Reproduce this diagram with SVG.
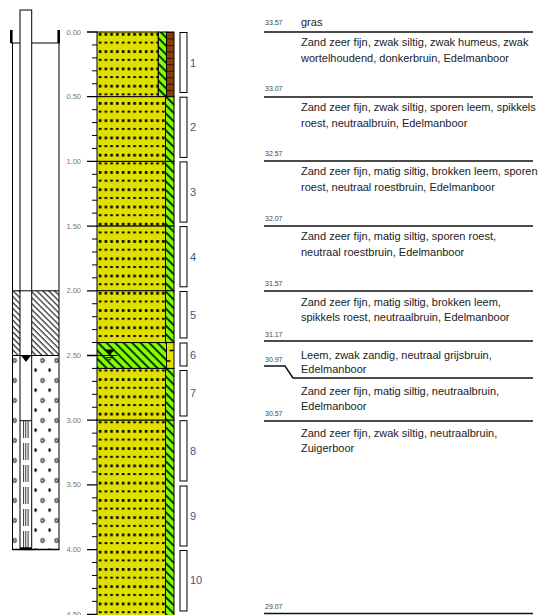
<svg xmlns="http://www.w3.org/2000/svg" width="547" height="615" viewBox="0 0 547 615">
<style>
.desc{font-family:"Liberation Sans",Arial,sans-serif;font-size:11px;fill:#222}
.elev{font-family:"Liberation Sans",Arial,sans-serif;font-size:7px;fill:#444}
.depth{font-family:"Liberation Sans",Arial,sans-serif;font-size:7.5px;fill:#777;text-anchor:end}
.num{font-family:"Liberation Sans",Arial,sans-serif;font-size:11px;fill:#4b5578}
.lyr{stroke:#000;stroke-width:1}
.hl{stroke:#111;stroke-width:1.5;fill:none}
.blk{stroke:#000;fill:none}
.smp{fill:#fff;stroke:#000;stroke-width:1}
</style>
<defs>
<pattern id="sand" patternUnits="userSpaceOnUse" x="97" y="32" width="5.75" height="17.26">
<rect width="5.75" height="17.26" fill="#e0e000"/>
<rect x="1.8" y="1" width="2.6" height="2.7" fill="#000"/>
<rect x="1.8" y="9.6" width="2.6" height="2" fill="#000"/>
</pattern>
<pattern id="green" patternUnits="userSpaceOnUse" width="6" height="6" patternTransform="rotate(-45)">
<rect width="6" height="6" fill="#7fff00"/>
<line x1="1" y1="0" x2="1" y2="6" stroke="#000" stroke-width="1.6"/>
</pattern>
<pattern id="bent" patternUnits="userSpaceOnUse" width="4.2" height="4.2" patternTransform="rotate(-45)">
<rect width="4.2" height="4.2" fill="#fff"/>
<line x1="1" y1="0" x2="1" y2="4.2" stroke="#222" stroke-width="1.2"/>
</pattern>
<pattern id="gravel" patternUnits="userSpaceOnUse" x="12.5" y="355.5" width="14" height="20">
<rect width="14" height="20" fill="#fff"/>
<circle cx="2" cy="5" r="1.9" fill="none" stroke="#000" stroke-width="1"/>
<circle cx="2" cy="5" r="0.6" fill="#000"/>
<rect x="8" y="13" width="2.2" height="3.2" fill="#000"/>
</pattern>
<pattern id="brown" patternUnits="userSpaceOnUse" x="166.5" y="32" width="7.5" height="6.47">
<rect width="7.5" height="6.47" fill="#8b3d00"/>
<line x1="0" y1="0.3" x2="7.5" y2="0.3" stroke="#000" stroke-width="0.8"/>
</pattern>
</defs>
<rect width="547" height="615" fill="#fff"/>

<g id="well">
<rect x="12.5" y="290.8" width="7.5" height="64.7" fill="url(#bent)"/>
<rect x="31.7" y="290.8" width="27.3" height="64.7" fill="url(#bent)"/>
<rect x="12.5" y="355.5" width="7.5" height="194.1" fill="url(#gravel)"/>
<rect x="31.7" y="355.5" width="27.3" height="194.1" fill="url(#gravel)"/>
<rect x="20" y="10" width="11.7" height="539.6" fill="#fff" stroke="#000" stroke-width="1"/>
<path class="blk" d="M12.5 43V549.6M59 43V549.6M11 43H20M31.7 43H59.5M12.5 290.8H59M12.5 355.5H59M20 420.7H31.7" stroke-width="1"/>
<rect x="10" y="30" width="2.6" height="13" fill="#000"/>
<rect x="57.4" y="30" width="2.6" height="13" fill="#000"/>
<polygon points="21,355.5 31,355.5 26,362" fill="#000"/>
<path d="M23.6 421V548M25.8 421V548M28.1 421V548" stroke="#000" stroke-width="0.8" stroke-dasharray="17 5"/>
<line x1="12" y1="549.6" x2="59.5" y2="549.6" stroke="#000" stroke-width="1.5"/>
<rect x="20" y="547.3" width="11.7" height="2.5" fill="#000"/>
</g>

<g id="depth-scale">
<path d="M92 44.94H97M92 57.88H97M92 70.82H97M92 83.76H97M92 109.64H97M92 122.58H97M92 135.52H97M92 148.46H97M92 174.34H97M92 187.28H97M92 200.22H97M92 213.16H97M92 239.04H97M92 251.98H97M92 264.92H97M92 277.86H97M92 303.74H97M92 316.68H97M92 329.62H97M92 342.56H97M92 368.44H97M92 381.38H97M92 394.32H97M92 407.26H97M92 433.14H97M92 446.08H97M92 459.02H97M92 471.96H97M92 497.84H97M92 510.78H97M92 523.72H97M92 536.66H97M92 562.54H97M92 575.48H97M92 588.42H97M92 601.36H97" stroke="#000" stroke-width="1"/>
<path d="M87 32H97M87 96.7H97M87 161.4H97M87 226.1H97M87 290.8H97M87 355.5H97M87 420.2H97M87 484.9H97M87 549.6H97M87 614.3H97" stroke="#000" stroke-width="1.3"/>
<text class="depth" x="81" y="34.5">0.00</text>
<text class="depth" x="81" y="99.2">0.50</text>
<text class="depth" x="81" y="163.9">1.00</text>
<text class="depth" x="81" y="228.6">1.50</text>
<text class="depth" x="81" y="293.3">2.00</text>
<text class="depth" x="81" y="358">2.50</text>
<text class="depth" x="81" y="422.7">3.00</text>
<text class="depth" x="81" y="487.4">3.50</text>
<text class="depth" x="81" y="552.1">4.00</text>
<text class="depth" x="81" y="616.5">4.50</text>
</g>

<g id="soil-column">
<g id="layer1">
<rect class="lyr" x="97" y="32" width="61.3" height="64.7" fill="url(#sand)"/>
<rect class="lyr" x="158.3" y="32" width="8.2" height="64.7" fill="url(#green)"/>
<rect class="lyr" x="166.5" y="32" width="7.5" height="64.7" fill="url(#brown)"/>
</g>
<g id="layer2">
<rect class="lyr" x="97" y="96.7" width="68.5" height="64.7" fill="url(#sand)"/>
<rect class="lyr" x="165.5" y="96.7" width="8.5" height="64.7" fill="url(#green)"/>
</g>
<g id="layer3">
<rect class="lyr" x="97" y="161.4" width="68.5" height="64.7" fill="url(#sand)"/>
<rect class="lyr" x="165.5" y="161.4" width="8.5" height="64.7" fill="url(#green)"/>
</g>
<g id="layer4">
<rect class="lyr" x="97" y="226.1" width="68.5" height="64.7" fill="url(#sand)"/>
<rect class="lyr" x="165.5" y="226.1" width="8.5" height="64.7" fill="url(#green)"/>
</g>
<g id="layer5">
<rect class="lyr" x="97" y="290.8" width="68.5" height="51.76" fill="url(#sand)"/>
<rect class="lyr" x="165.5" y="290.8" width="8.5" height="51.76" fill="url(#green)"/>
</g>
<g id="layer6">
<rect class="lyr" x="97" y="342.56" width="69.5" height="25.88" fill="url(#green)"/>
<rect class="lyr" x="166.5" y="342.56" width="7.5" height="25.88" fill="#e0e000"/>
<path d="M169.5 350.5H173.5M167 361H170.5" stroke="#000" stroke-width="1.5"/>
</g>
<g id="layer7">
<rect class="lyr" x="97" y="368.44" width="68.5" height="51.76" fill="url(#sand)"/>
<rect class="lyr" x="165.5" y="368.44" width="8.5" height="51.76" fill="url(#green)"/>
</g>
<g id="layer8">
<rect class="lyr" x="97" y="420.2" width="68.5" height="196" fill="url(#sand)"/>
<rect class="lyr" x="165.5" y="420.2" width="8.5" height="196" fill="url(#green)"/>
</g>
<g id="water-level">
<polygon points="104,349.5 115,349.5 109.5,355" fill="#000"/>
<path d="M97 355.5H117M106 357.7H113M108 359.8H111" stroke="#000" stroke-width="1"/>
</g>
</g>

<g id="samples">
<rect class="smp" x="180" y="32.5" width="7" height="60"/>
<rect class="smp" x="180" y="97.2" width="7" height="60.2"/>
<rect class="smp" x="180" y="161.9" width="7" height="60.2"/>
<rect class="smp" x="180" y="226.6" width="7" height="60.2"/>
<rect class="smp" x="180" y="291.5" width="7" height="46.5"/>
<rect class="smp" x="180" y="343" width="7" height="23"/>
<rect class="smp" x="180" y="370.5" width="7" height="45.5"/>
<rect class="smp" x="180" y="420.7" width="7" height="60.3"/>
<rect class="smp" x="180" y="486" width="7" height="60"/>
<rect class="smp" x="180" y="550.5" width="7" height="60.5"/>
<text class="num" x="190" y="66.5">1</text>
<text class="num" x="190" y="131">2</text>
<text class="num" x="190" y="196">3</text>
<text class="num" x="190" y="260.7">4</text>
<text class="num" x="190" y="319">5</text>
<text class="num" x="190" y="358.5">6</text>
<text class="num" x="190" y="397">7</text>
<text class="num" x="190" y="455">8</text>
<text class="num" x="190" y="519.5">9</text>
<text class="num" x="190" y="584">10</text>
</g>

<g id="connectors">
<path class="hl" d="M264 32H533M264 97H533M264 161H533M264 226H533M264 291H533M264 341H533M264 366H285L293 378H533M264 421H533M264 613.5H533"/>
</g>

<g id="descriptions">
<text class="elev" x="265" y="25">33.57</text>
<text class="desc" x="301" y="25.5">gras</text>
<text class="desc" x="301" y="46">Zand zeer fijn, zwak siltig, zwak humeus, zwak</text>
<text class="desc" x="301" y="62">wortelhoudend, donkerbruin, Edelmanboor</text>
<text class="elev" x="265" y="91">33.07</text>
<text class="desc" x="301" y="111">Zand zeer fijn, zwak siltig, sporen leem, spikkels</text>
<text class="desc" x="301" y="127">roest, neutraalbruin, Edelmanboor</text>
<text class="elev" x="265" y="156">32.57</text>
<text class="desc" x="301" y="175">Zand zeer fijn, matig siltig, brokken leem, sporen</text>
<text class="desc" x="301" y="191">roest, neutraal roestbruin, Edelmanboor</text>
<text class="elev" x="265" y="221">32.07</text>
<text class="desc" x="301" y="240">Zand zeer fijn, matig siltig, sporen roest,</text>
<text class="desc" x="301" y="256">neutraal roestbruin, Edelmanboor</text>
<text class="elev" x="265" y="286">31.57</text>
<text class="desc" x="301" y="306">Zand zeer fijn, matig siltig, brokken leem,</text>
<text class="desc" x="301" y="321">spikkels roest, neutraalbruin, Edelmanboor</text>
<text class="elev" x="265" y="337">31.17</text>
<text class="desc" x="301" y="359">Leem, zwak zandig, neutraal grijsbruin,</text>
<text class="desc" x="301" y="373">Edelmanboor</text>
<text class="elev" x="265" y="362">30.97</text>
<text class="desc" x="301" y="395">Zand zeer fijn, matig siltig, neutraalbruin,</text>
<text class="desc" x="301" y="409.5">Edelmanboor</text>
<text class="elev" x="265" y="416">30.57</text>
<text class="desc" x="301" y="436.5">Zand zeer fijn, zwak siltig, neutraalbruin,</text>
<text class="desc" x="301" y="452">Zuigerboor</text>
<text class="elev" x="265" y="608.5">29.07</text>
</g>
</svg>
